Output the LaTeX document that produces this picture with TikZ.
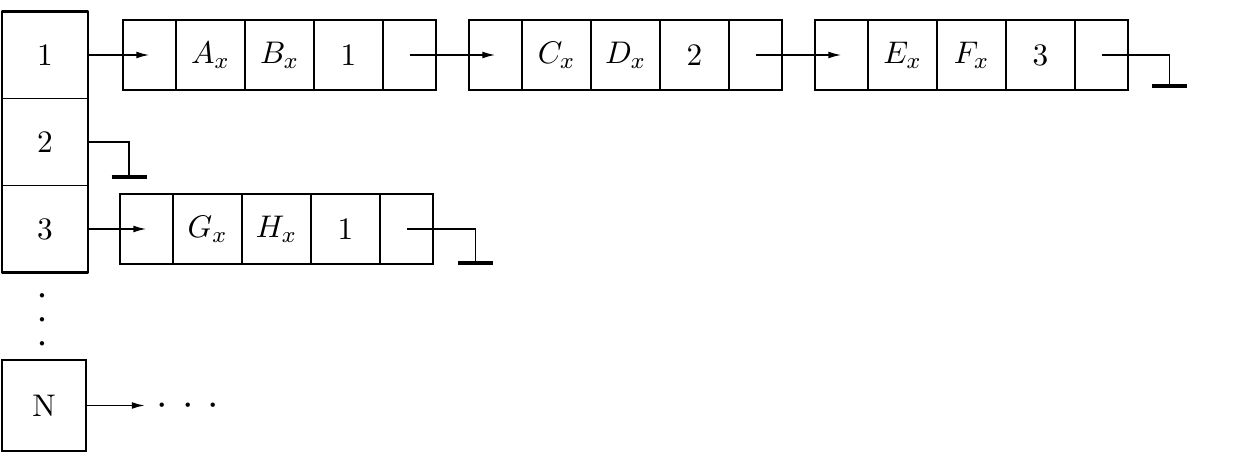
\documentclass[tikz,border=0pt]{standalone}
\usetikzlibrary{arrows.meta,calc}
\def\u{0.35pt}
\tikzset{
  txt/.style={font=\fontsize{10.95}{13}\selectfont},
  dotstxt/.style={font=\fontsize{14.4}{17}\selectfont, inner sep=0pt},
  cell/.style={draw, line width=0.6pt, inner sep=0pt, outer sep=0pt, minimum height=70*\u, anchor=west, txt},
  kbox/.style={draw, line width=0.6pt, inner sep=0pt, outer sep=0pt, minimum width=86*\u, minimum height=87*\u, txt},
  outer/.style={line width=1pt, line join=round},
  ptr/.style={line width=0.6pt, -{Latex[length=4.6pt,width=2.4pt]}},
  nil/.style={line width=0.6pt},
  nilbar/.style={line width=1.1pt},
}
\newcommand\rec[6]{%
  \node[cell, minimum width=53*\u] (#1-0) at (#2,#3) {};
  \node[cell, minimum width=69*\u] (#1-1) at (#1-0.east) {#4};
  \node[cell, minimum width=69*\u] (#1-2) at (#1-1.east) {#5};
  \node[cell, minimum width=69*\u] (#1-3) at (#1-2.east) {#6};
  \node[cell, minimum width=53*\u] (#1-4) at (#1-3.east) {};
  \draw[outer] (#1-0.north west) rectangle (#1-4.south east);
}
\begin{document}
\begin{tikzpicture}[x=0.35pt,y=-0.35pt]
\useasboundingbox (0,0) rectangle (1235,467);
% key column
\node[kbox] (k1) at (45,55) {1};
\node[kbox] (k2) at (45,142) {2};
\node[kbox] (k3) at (45,229) {3};
\draw[outer] (k1.north west) rectangle (k3.south east);
\node[rotate=90, anchor=base, dotstxt] (vd) at (52.3,319.5) {$\cdotp\mkern2.6mu\cdotp\mkern2.6mu\cdotp$};
\node[kbox, minimum width=84*\u, minimum height=91*\u, line width=1pt] (kN) at (44,405.5) {N};
% records
\rec{a}{123}{55}{$A_x$}{$B_x$}{1}
\rec{b}{469}{55}{$C_x$}{$D_x$}{2}
\rec{c}{815}{55}{$E_x$}{$F_x$}{3}
\rec{g}{120}{229}{$G_x$}{$H_x$}{1}
% pointers
\draw[ptr] (k1.east) -- (a-0.center);
\draw[ptr] (a-4.center) -- (b-0.center);
\draw[ptr] (b-4.center) -- (c-0.center);
\draw[ptr] (k3.east) -- (g-0.center);
% null pointers
\coordinate (n2) at ($(k2.east)+(41,35)$);
\draw[nil] (k2.east) -| (n2);
\draw[nilbar] ($(n2)+(-17.5,0)$) -- ($(n2)+(17.5,0)$);
\coordinate (nc) at ($(c-4.center)+(68,31)$);
\draw[nil] (c-4.center) -| (nc);
\draw[nilbar] ($(nc)+(-17.5,0)$) -- ($(nc)+(17.5,0)$);
\coordinate (ng) at ($(g-4.center)+(69,34)$);
\draw[nil] (g-4.center) -| (ng);
\draw[nilbar] ($(ng)+(-17.5,0)$) -- ($(ng)+(17.5,0)$);
% N row
\coordinate (nend) at (145,405.5);
\draw[ptr] (kN.east) -- (nend);
\node[anchor=base, dotstxt] (hd) at (188,415.8) {$\cdotp\mkern3.1mu\cdotp\mkern3.1mu\cdotp$};
\end{tikzpicture}
\end{document}
